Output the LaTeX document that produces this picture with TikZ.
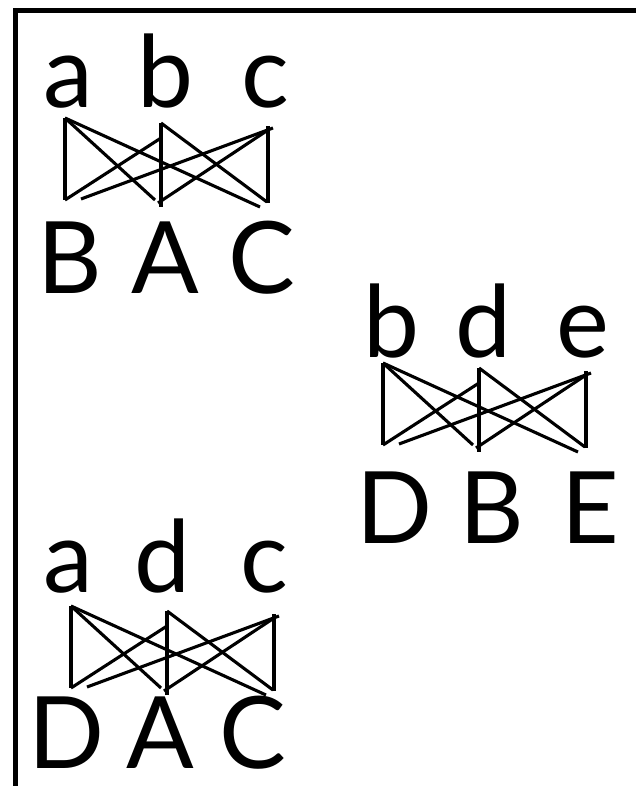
\documentclass[tikz,border=0pt]{standalone}
\usepackage{fontspec}
\setmainfont{Lato}
\begin{document}
\begin{tikzpicture}[x=1pt,y=-1pt,
  edge/.style={line width=3.1pt},
  frameline/.style={line width=5pt},
  lbl/.style={anchor=base,inner sep=0pt,text depth=0pt,font=\fontsize{100}{100}\selectfont},
  knet/.pic={
    \coordinate (-aT) at (10,8);
    \coordinate (-bT) at (106,13);
    \coordinate (-bM) at (106,28);
    \coordinate (-cT) at (213,16);
    \coordinate (-cE) at (218,18);
    \coordinate (-cF) at (213,20);
    \coordinate (-BB) at (10,90);
    \coordinate (-BE) at (26,89);
    \coordinate (-AB) at (106,97);
    \coordinate (-AE) at (100,90);
    \coordinate (-AF) at (103,93);
    \coordinate (-CB) at (213,93);
    \coordinate (-CE) at (205,97);
    \coordinate (-CF) at (212,92);
    \draw[edge] (-aT) -- (-BB);
    \draw[edge] (-aT) -- (-AE);
    \draw[edge] (-aT) -- (-CE);
    \draw[edge] (-BB) -- (-bM);
    \draw[edge] (-BE) -- (-cE);
    \draw[edge] (-bT) -- (-AB);
    \draw[edge] (-bT) -- (-CF);
    \draw[edge] (-AF) -- (-cF);
    \draw[edge] (-cT) -- (-CB);
  }]
\useasboundingbox (0,0) rectangle (636,786);
\coordinate (fbl) at (15.5,786);
\coordinate (ftl) at (15.5,10.5);
\coordinate (ftr) at (636,10.5);
\draw[frameline] (fbl) -- (ftl) -- (ftr);

% group 1
\node[lbl] (g1a) at (68,108) {a};
\node[lbl] (g1b) at (165,108) {b};
\node[lbl] (g1c) at (265,108) {c};
\node[lbl] (g1B) at (70,293) {B};
\node[lbl] (g1A) at (165,293) {A};
\node[lbl] (g1C) at (262,293) {C};
\pic (n1) at (55,110) {knet};

% group 2
\node[lbl] (g2b) at (391,357) {b};
\node[lbl] (g2d) at (483,357) {d};
\node[lbl] (g2e) at (583,357) {e};
\node[lbl] (g2D) at (395,543) {D};
\node[lbl] (g2B) at (492,543) {B};
\node[lbl] (g2E) at (590,543) {E};
\pic (n2) at (373,355) {knet};

% group 3
\node[lbl] (g3a) at (68,592) {a};
\node[lbl] (g3d) at (162,592) {d};
\node[lbl] (g3c) at (264,592) {c};
\node[lbl] (g3D) at (67,768) {D};
\node[lbl] (g3A) at (160,768) {A};
\node[lbl] (g3C) at (253,768) {C};
\pic (n3) at (61,598) {knet};
\end{tikzpicture}
\end{document}
